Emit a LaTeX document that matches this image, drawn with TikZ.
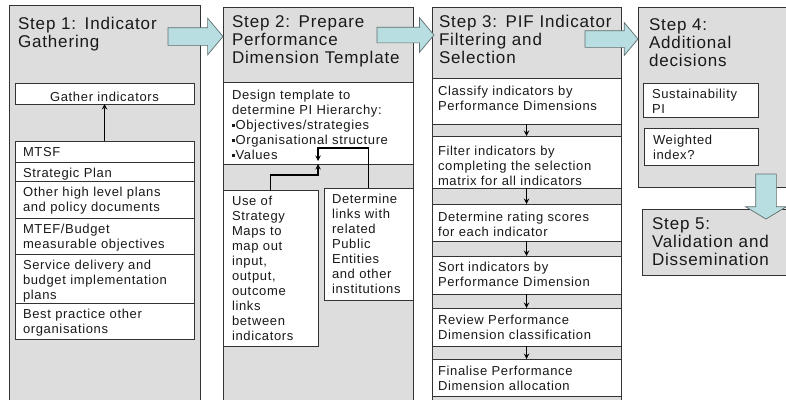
\documentclass[tikz,border=0pt]{standalone}
\usepackage{fontspec}
\setmainfont{Liberation Sans}[LetterSpace=5.0]
\usepackage{tikz}
\usetikzlibrary{positioning}
\usetikzlibrary{shapes.arrows, arrows}

\definecolor{colfill}{RGB}{221,221,221}
\definecolor{arrowfill}{RGB}{184,222,225}
\definecolor{arrowline}{RGB}{95,110,110}

\newcommand{\sqb}{\raisebox{2.2pt}{\rule{2.6pt}{2.6pt}}\hspace{1pt}}

\begin{document}
\begin{tikzpicture}[x=1pt,y=-1pt]
\tikzstyle{column} = [rectangle, draw=black!80, fill=colfill, line width=0.8pt, anchor=north west, inner sep=0pt, outer sep=0pt]
\tikzstyle{heading} = [anchor=north west, inner sep=0pt, outer sep=0pt, align=left, text height=12pt, text=black!90, font=\fontsize{17}{18}\selectfont]
\tikzstyle{item} = [rectangle, draw=black!80, fill=white, line width=0.6pt, anchor=north west, inner ysep=0pt, inner xsep=8pt, outer sep=0pt, align=left, text=black!90, font=\fontsize{13}{15}\selectfont]
\tikzstyle{arrow} = [line width=1.4pt,->,>=stealth]
\tikzstyle{bigarrow} = [single arrow, draw=arrowline, fill=arrowfill, line width=0.7pt, inner xsep=0pt, outer sep=0pt, anchor=tail, single arrow tip angle=100]

\path [use as bounding box, clip] (0,0) rectangle (786,399);
\fill [white] (0,0) rectangle (786,399);

% step 1
\node (col1) [column, minimum width=191, minimum height=420] at (9,5) {};
\node (title1) [heading, text width=180] at (18,17) {Step 1: Indicator\\Gathering};
\node (gather) [item, align=center, text width=163, text height=18pt, text depth=3pt] at (15,83) {Gather indicators};
\node (mtsf) [item, text width=163, text height=15.5pt, text depth=5.5pt] at (15,141) {MTSF};
\node (plan) [item, text width=163, text height=15.5pt, text depth=3.5pt, below=0pt of mtsf] {Strategic Plan};
\node (other) [item, text width=163, text height=15.5pt, text depth=21.5pt, below=0pt of plan] {Other high level plans\\and policy documents};
\node (mtef) [item, text width=163, text height=15.5pt, text depth=20.5pt, below=0pt of other] {MTEF/Budget\\measurable objectives};
\node (service) [item, text width=163, text height=15.5pt, text depth=33.5pt, below=0pt of mtef] {Service delivery and\\budget implementation\\plans};
\node (practice) [item, text width=163, text height=15.5pt, text depth=20.5pt, below=0pt of service] {Best practice other\\organisations};
\draw [arrow] (mtsf) -- (gather);

% step 2
\node (col2) [column, minimum width=190, minimum height=420] at (223,7) {};
\node (title2) [heading, text width=180] at (232,15) {Step 2: Prepare\\Performance\\Dimension Template};
\node (design) [item, inner xsep=9pt, text width=172, text height=17pt, text depth=65pt] at (223,82) {Design template to\\determine PI Hierarchy:\\\sqb Objectives/strategies\\\sqb Organisational structure\\\sqb Values};
\node (maps) [item, inner xsep=9pt, text width=77, text height=15pt, text depth=141pt] at (223,190) {Use of\\Strategy\\Maps to\\map out\\input,\\output,\\outcome\\links\\between\\indicators};
\node (links) [item, inner xsep=8pt, text width=73, text height=15pt, text depth=97pt] at (324,188) {Determine\\links with\\related\\Public\\Entities\\and other\\institutions};
\coordinate (hub) at (design.south -| maps.east);
\draw [arrow] (links.north) -- ++(0,-40) -| ([yshift=3pt]hub);
\draw [arrow] (maps.north) -- ++(0,-15) -| (hub);

% step 3
\node (col3) [column, minimum width=189, minimum height=420] at (432,7) {};
\node (title3) [heading, text width=180] at (439,15) {Step 3: PIF Indicator\\Filtering and\\Selection};
\node (classify) [item, inner xsep=6pt, text width=177, text height=17pt, text depth=29pt] at (432,78) {Classify indicators by\\Performance Dimensions};
\node (filter) [item, inner xsep=6pt, text width=177, text height=19pt, text depth=33pt, below=12pt of classify] {Filter indicators by\\completing the selection\\matrix for all indicators};
\node (rating) [item, inner xsep=6pt, text width=177, text height=17pt, text depth=20pt, below=16pt of filter] {Determine rating scores\\for each indicator};
\node (sort) [item, inner xsep=6pt, text width=177, text height=15pt, text depth=23pt, below=15pt of rating] {Sort indicators by\\Performance Dimension};
\node (review) [item, inner xsep=6pt, text width=177, text height=16pt, text depth=22pt, below=14pt of sort] {Review Performance\\Dimension classification};
\node (finalise) [item, inner xsep=6pt, text width=177, text height=16pt, text depth=21pt, below=13pt of review] {Finalise Performance\\Dimension allocation};
\foreach \a/\b in {classify/filter, filter/rating, rating/sort, sort/review, review/finalise}
  \draw [arrow] (\a) -- (\b);

% step 4 and 5
\node (col4) [column, minimum width=170, minimum height=180] at (638,7) {};
\node (title4) [heading, text width=130] at (649,18) {Step 4:\\Additional\\decisions};
\node (sust) [item, inner xsep=9pt, text width=97, text height=15pt, text depth=19pt] at (643,83) {Sustainability\\PI};
\node (weight) [item, inner xsep=9pt, text width=96, text height=16pt, text depth=21pt] at (644,128) {Weighted\\index?};
\node (step5) [column, minimum width=170, minimum height=66] at (642,209) {};
\node (title5) [heading, text width=140] at (652,217) {Step 5:\\Validation and\\Dissemination};

% block arrows between the steps
\node (go12) [bigarrow, minimum height=55, minimum width=36, inner ysep=8.5pt, single arrow head extend=9.5pt] at (168,36.5) {};
\node (go23) [bigarrow, minimum height=57, minimum width=34, inner ysep=7.5pt, single arrow head extend=9.5pt] at (377,35) {};
\node (go34) [bigarrow, minimum height=53, minimum width=32, inner ysep=8pt, single arrow head extend=8pt] at (585,39) {};
\node (go45) [bigarrow, rotate=-90, minimum height=45, minimum width=40, inner ysep=10pt, single arrow head extend=10pt, single arrow tip angle=118] at (766,174) {};
\end{tikzpicture}
\end{document}
